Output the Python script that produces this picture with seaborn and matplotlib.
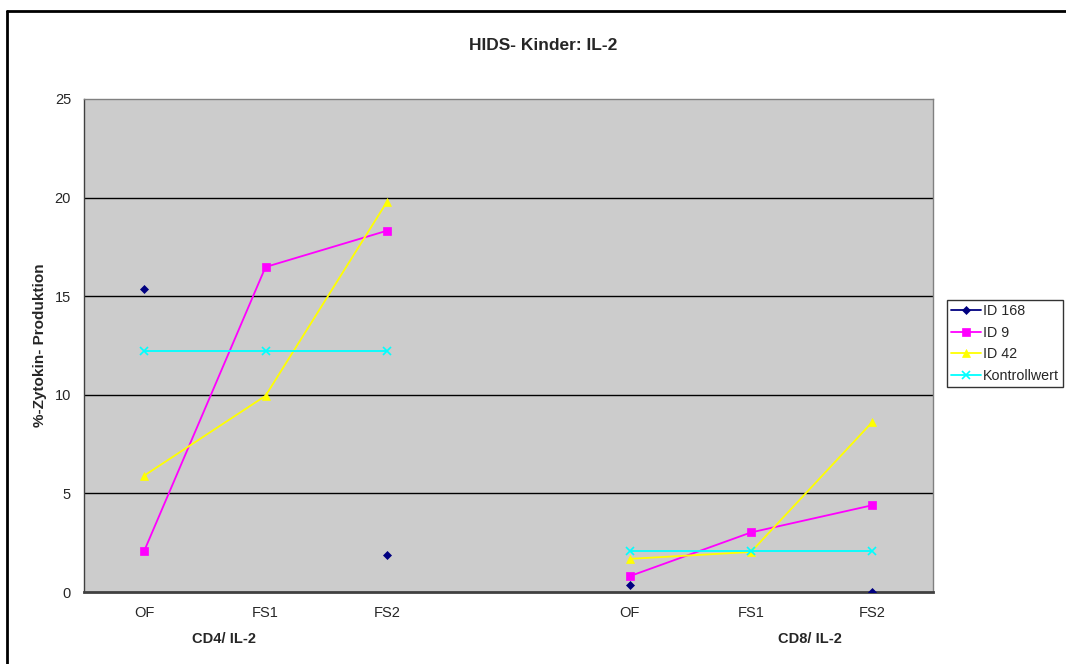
import numpy as np
import pandas as pd
import matplotlib
matplotlib.use("Agg")
import matplotlib.pyplot as plt
from matplotlib.lines import Line2D
import seaborn as sns

categories = ["OF", "FS1", "FS2", "", "OF", "FS1", "FS2"]
group_labels = ["CD4/ IL-2", "CD8/ IL-2"]
series_names = ["ID 168", "ID 9", "ID 42", "Kontrollwert"]
id168 = [15.35, np.nan, 1.9, np.nan, 0.33, np.nan, 0.02]
id9 = [2.08, 16.48, 18.32, np.nan, 0.8, 3.02, 4.4]
id42 = [5.9, 9.95, 19.78, np.nan, 1.68, 2.03, 8.62]
kontroll = [12.22, 12.22, 12.22, np.nan, 2.07, 2.07, 2.07]
yticks = [0, 5, 10, 15, 20, 25]

colors = {"ID 168": "#000080", "ID 9": "#FF00FF", "ID 42": "#FFFF00", "Kontrollwert": "#00FFFF"}
markers = {"ID 168": "D", "ID 9": "s", "ID 42": "^", "Kontrollwert": "x"}
msizes = {"ID 168": 4.3, "ID 9": 5.3, "ID 42": 5.8, "Kontrollwert": 5.3}
mew = {"ID 168": 0.5, "ID 9": 0.5, "ID 42": 0.5, "Kontrollwert": 1.2}

# build long-form data split into contiguous runs
rows = []
for name, vals in zip(series_names, [id168, id9, id42, kontroll]):
    run = 0
    prev_nan = True
    for i, v in enumerate(vals):
        if np.isnan(v):
            prev_nan = True
            continue
        if prev_nan:
            run += 1
        prev_nan = False
        rows.append({"x": i, "value": v, "series": name, "unit": f"{name}-{run}"})
df = pd.DataFrame(rows)

sns.set_theme(style="white")
plt.rcParams["font.family"] = ["Liberation Sans", "DejaVu Sans"]

fig = plt.figure(figsize=(10.66, 6.64), dpi=100)
ax = fig.add_axes([83.5 / 1066, 1 - 592 / 664, (933 - 83.5) / 1066, (592 - 99) / 664])
ax.set_facecolor("#CCCCCC")

for name in series_names:
    sub = df[df["series"] == name]
    sns.lineplot(data=sub, x="x", y="value", units="unit", estimator=None,
                 color=colors[name], marker=markers[name], markersize=msizes[name],
                 markeredgecolor=colors[name], markeredgewidth=mew[name],
                 linewidth=1.3, ax=ax, legend=False, zorder=3)

ax.set_xlim(-0.5, 6.5)
ax.set_ylim(0, 25)
ax.set_yticks(yticks)
ax.set_yticklabels([str(t) for t in yticks], fontsize=10.5)
for t in yticks[1:-1]:
    ax.axhline(t, color="black", linewidth=1.0, zorder=1)

ax.set_xticks(range(len(categories)))
ax.set_xticklabels(categories, fontsize=10.5)
ax.set_xticks(np.arange(-0.5, 7.0, 1.0), minor=True)
ax.tick_params(axis="x", which="major", length=0, pad=10)
ax.tick_params(axis="x", which="minor", length=5, width=1, color="#404040", direction="out")
ax.tick_params(axis="y", which="major", length=5, width=1, color="#404040", direction="out", pad=4)

for side in ["top", "right"]:
    ax.spines[side].set_color("#808080")
    ax.spines[side].set_linewidth(1.0)
ax.spines["left"].set_color("#404040")
ax.spines["left"].set_linewidth(1.0)
ax.spines["bottom"].set_color("#404040")
ax.spines["bottom"].set_linewidth(2.0)

ax.set_xlabel("")
ax.set_ylabel("")
fig.text(40 / 1066, 1 - 345 / 664, "%-Zytokin- Produktion", rotation=90, ha="center", va="center",
         fontsize=11, fontweight="bold")

# group labels
fig.text(224 / 1066, 1 - 639 / 664, group_labels[0], ha="center", va="center", fontsize=10.5, fontweight="bold")
fig.text(810 / 1066, 1 - 639 / 664, group_labels[1], ha="center", va="center", fontsize=10.5, fontweight="bold")

fig.text(543 / 1066, 1 - 46 / 664, "HIDS- Kinder: IL-2", ha="center", va="center",
         fontsize=12.5, fontweight="bold")

handles = [Line2D([0], [0], color=colors[n], marker=markers[n], markersize=msizes[n],
                  markeredgecolor=colors[n], markeredgewidth=mew[n],
                  linewidth=1.3) for n in series_names]
leg = fig.legend(handles, series_names, loc="upper left", bbox_to_anchor=(947 / 1066, 1 - 300 / 664),
                 fontsize=10.3, frameon=True, fancybox=False, edgecolor="black", handlelength=2.1,
                 borderpad=0.3, labelspacing=0.52, handletextpad=0.1, borderaxespad=0)
leg.get_frame().set_linewidth(1.0)
leg.get_frame().set_facecolor("white")

# figure border (top & left)
fig.add_artist(Line2D([7 / 1066, 7 / 1066], [0, 1 - 11 / 664], color="black", linewidth=2,
                      transform=fig.transFigure))
fig.add_artist(Line2D([7 / 1066, 1], [1 - 11 / 664, 1 - 11 / 664], color="black", linewidth=2,
                      transform=fig.transFigure))

fig.savefig("out.png", dpi=100, facecolor="white")
